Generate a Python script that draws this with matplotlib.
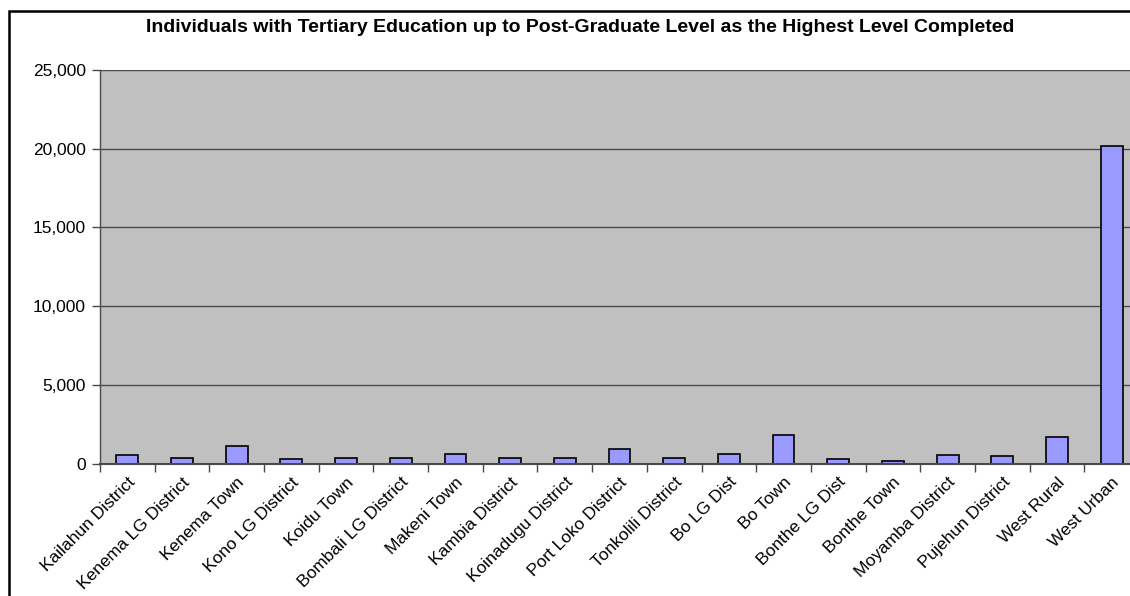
import numpy as np
import matplotlib
matplotlib.use("Agg")
import matplotlib.pyplot as plt
import matplotlib.patches as patches
from matplotlib.ticker import FuncFormatter, FixedLocator

# values
areas = ['Kailahun District', 'Kenema LG District', 'Kenema Town', 'Kono LG District',
         'Koidu Town', 'Bombali LG District', 'Makeni Town', 'Kambia District',
         'Koinadugu District', 'Port Loko District', 'Tonkolili District', 'Bo LG Dist',
         'Bo Town', 'Bonthe LG Dist', 'Bonthe Town', 'Moyamba District', 'Pujehun District',
         'West Rural', 'West Urban']
counts = [510, 340, 1125, 275, 340, 340, 590, 340, 340, 890, 340, 590,
          1800, 275, 170, 530, 445, 1655, 20150]
yticks = [0, 5000, 10000, 15000, 20000, 25000]
title = 'Individuals with Tertiary Education up to Post-Graduate Level as the Highest Level Completed'

plt.rcParams['font.family'] = ['Liberation Sans', 'DejaVu Sans']

W, H = 1130, 596
fig = plt.figure(figsize=(W / 100, H / 100), dpi=100)
fig.patch.set_facecolor('white')

# plot area runs past the right edge of the picture (cropped)
ax = fig.add_axes([100 / W, 1 - 463.5 / H, 1039 / W, 393.5 / H])
ax.set_facecolor('#C0C0C0')

n = len(areas)
x = np.arange(n)
ax.bar(x, counts, width=0.4, color='#9999FF', edgecolor='black', linewidth=1.2, zorder=3)

ax.set_xlim(-0.5, n - 0.5)
ax.set_ylim(0, 25000)
ax.set_yticks(yticks)
ax.yaxis.set_major_formatter(FuncFormatter(lambda v, p: '{:,.0f}'.format(v)))
ax.grid(axis='y', color='#4a4a4a', linewidth=1.0, zorder=1)

ax.set_xticks(x)
ax.set_xticklabels(areas, rotation=45, ha='right', rotation_mode='anchor', fontsize=12.5)
ax.xaxis.set_minor_locator(FixedLocator(np.arange(-0.5, n + 0.5, 1.0)))
ax.tick_params(axis='x', which='major', length=0, pad=8)
ax.tick_params(axis='x', which='minor', length=6, width=1, color='#4a4a4a', direction='out')
ax.tick_params(axis='y', length=6, width=1, color='#4a4a4a', labelsize=12.5, pad=4)

for s in ['top', 'right']:
    ax.spines[s].set_visible(False)
ax.spines['left'].set_color('#4a4a4a')
ax.spines['bottom'].set_color('#4a4a4a')
ax.spines['left'].set_linewidth(1.0)
ax.spines['bottom'].set_linewidth(1.5)
ax.spines['bottom'].set_zorder(4)

fig.text(580 / W, 1 - 27 / H, title, ha='center', va='center', fontsize=14, fontweight='bold')

# outer chart border (cropped on right and bottom)
border = patches.Rectangle((9 / W, -0.1), 2.0, 1 - 11 / H + 0.1, transform=fig.transFigure,
                           fill=False, edgecolor='black', linewidth=1.8, clip_on=False)
fig.patches.append(border)

fig.savefig('out.png', dpi=100)
